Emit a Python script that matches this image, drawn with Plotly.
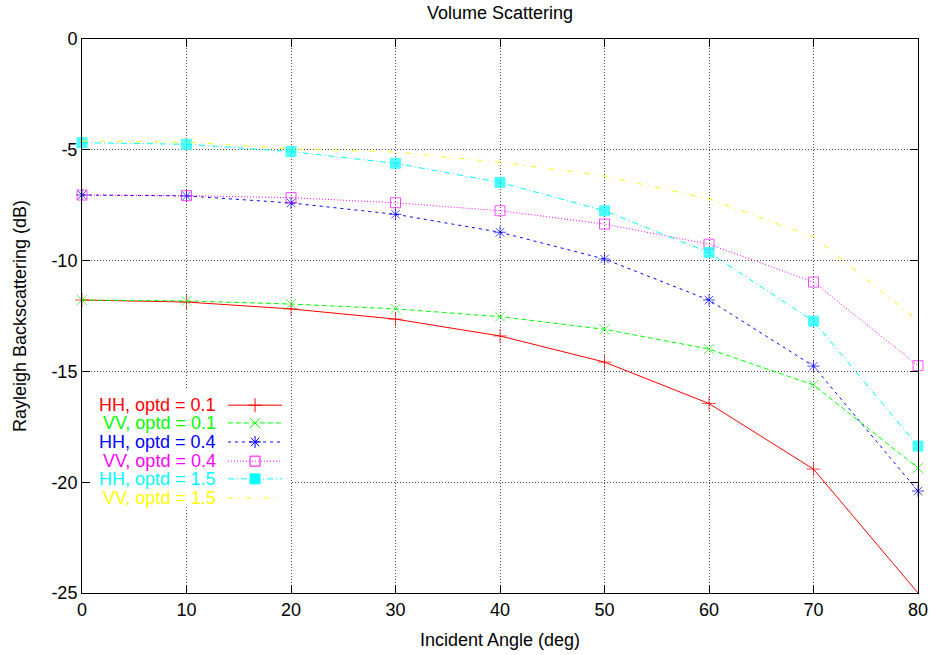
import plotly.graph_objects as go

# incidence angles (deg)
angles = [0, 10, 20, 30, 40, 50, 60, 70, 80]

# Rayleigh backscattering (dB)
hh_01 = [-11.78, -11.87, -12.18, -12.64, -13.40, -14.58, -16.45, -19.41, -25.0]
vv_01 = [-11.78, -11.82, -11.96, -12.18, -12.53, -13.10, -13.99, -15.61, -19.36]
hh_04 = [-7.04, -7.08, -7.40, -7.91, -8.72, -9.93, -11.78, -14.76, -20.40]
vv_04 = [-7.04, -7.07, -7.16, -7.39, -7.75, -8.35, -9.26, -10.97, -14.74]
hh_15 = [-4.68, -4.75, -5.08, -5.61, -6.47, -7.75, -9.64, -12.73, -18.37]
vv_15 = [-4.60, -4.65, -4.96, -5.10, -5.56, -6.18, -7.22, -8.92, -12.71]

names = ["HH, optd = 0.1", "VV, optd = 0.1", "HH, optd = 0.4",
         "VV, optd = 0.4", "HH, optd = 1.5", "VV, optd = 1.5"]

x_ticks = [0, 10, 20, 30, 40, 50, 60, 70, 80]
y_ticks = [0, -5, -10, -15, -20, -25]
y_labels = ["0", "-5", "-10", "-15", "-20", "-25"]

series = [hh_01, vv_01, hh_04, vv_04, hh_15, vv_15]
colors = ["#ff0000", "#00ff00", "#0000ff", "#ff00ff", "#00ffff", "#ffff00"]
dashes = ["solid", "5px,3px", "3px,4px", "1px,2px", "6px,3px,1px,3px", "5px,6px,1px,6px"]
symbols = ["cross-thin-open", "x-thin-open", "asterisk-open", "square-open", "square", None]

FONT = "Liberation Sans, Arial, sans-serif"

fig = go.Figure()

for vals, name, c, d, s in zip(series, names, colors, dashes, symbols):
    mode = "lines+markers" if s else "lines"
    # gnuplot drops the point sitting exactly on the plot corner
    sizes = [0 if v <= -25 else 10 for v in vals]
    fig.add_trace(go.Scatter(
        x=angles, y=vals, name=name, mode=mode,
        line=dict(color=c, width=1, dash=d),
        marker=dict(symbol=s or "circle", size=sizes, color=c, line=dict(color=c, width=1)),
        showlegend=False, cliponaxis=False,
    ))

# hand-made gnuplot style key: text on the left, sample on the right
row_y = [0.339, 0.307, 0.2726, 0.238, 0.206, 0.1715]
for i, (name, c, d, s) in enumerate(zip(names, colors, dashes, symbols)):
    fig.add_trace(go.Scatter(
        x=[0.1746, 0.2392], y=[row_y[i]] * 2, mode="lines",
        line=dict(color=c, width=1, dash=d), xaxis="x2", yaxis="y2",
        showlegend=False, hoverinfo="skip",
    ))
    if s:
        fig.add_trace(go.Scatter(
            x=[0.207], y=[row_y[i]], mode="markers",
            marker=dict(symbol=s, size=10, color=c, line=dict(color=c, width=1)),
            xaxis="x2", yaxis="y2", showlegend=False, hoverinfo="skip",
        ))
    fig.add_annotation(
        x=0.1627, y=row_y[i], xref="paper", yref="paper", text=name,
        showarrow=False, xanchor="right", yanchor="middle",
        font=dict(family=FONT, size=18, color=c),
    )

# white key box hides the grid (drawn between grid and traces)
fig.add_shape(type="rect", xref="x", yref="y", x0=0, x1=19.9,
              y0=-21.125, y1=-15.85, fillcolor="white", line=dict(width=0),
              layer="between")

axis_common = dict(
    showline=True, linecolor="black", linewidth=1, mirror="ticks",
    ticks="inside", ticklen=8, tickcolor="black", tickwidth=1,
    showgrid=True, gridcolor="#444444", griddash="1px,2px", gridwidth=1,
    zeroline=False, automargin=False,
    tickfont=dict(family=FONT, size=18, color="black"),
)

fig.update_layout(
    width=930, height=655,
    margin=dict(l=82, r=12, t=39, b=62),
    paper_bgcolor="white", plot_bgcolor="white",
    font=dict(family=FONT, size=18, color="black"),
    title=dict(text="Volume Scattering", x=0.5376, xanchor="center",
               y=0.980, yanchor="middle", font=dict(family=FONT, size=18)),
    xaxis=dict(range=[0, 80], tickvals=x_ticks,
               title=dict(text="Incident Angle (deg)", standoff=14, font=dict(size=18)),
               **axis_common),
    yaxis=dict(range=[-25, 0], tickvals=y_ticks, ticktext=y_labels,
               title=dict(text="Rayleigh Backscattering (dB)", standoff=20, font=dict(size=18)),
               **axis_common),
    xaxis2=dict(range=[0, 1], overlaying="x", visible=False, fixedrange=True),
    yaxis2=dict(range=[0, 1], overlaying="y", visible=False, fixedrange=True),
    showlegend=False,
)

# drop the browser's default 8px body margin so the figure fills the window
fig.write_html("out.html", config={"displayModeBar": False},
               post_script="document.body.style.margin='0';")
